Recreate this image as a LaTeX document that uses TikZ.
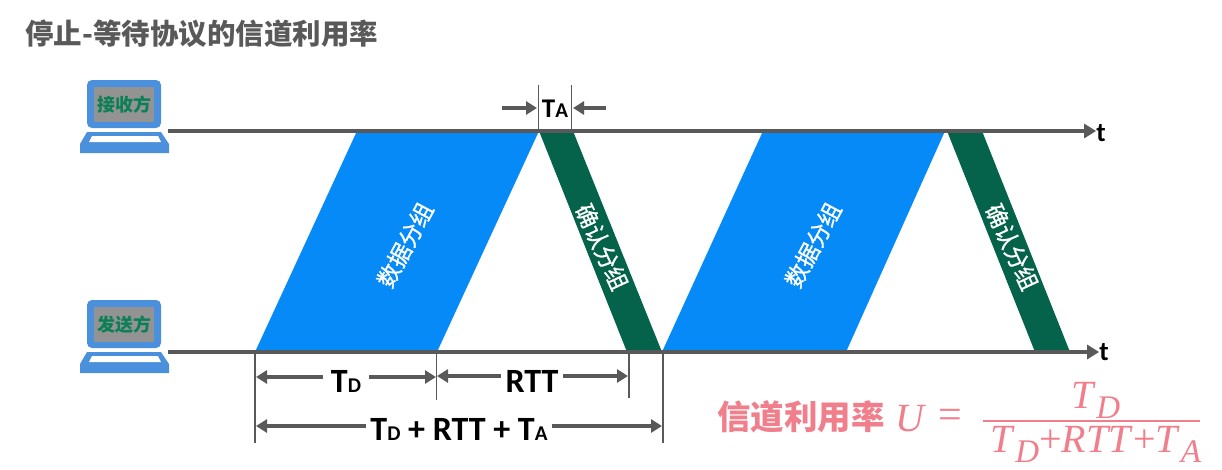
\documentclass[tikz,border=0pt]{standalone}
\usepackage{fontspec}
\setmainfont{Carlito}
\newfontfamily\cjkfont{Noto Sans CJK SC}
\newfontfamily\blockfont[FakeBold=0.7]{Noto Sans CJK SC}
\newfontfamily\formulafont{Liberation Serif}
\usetikzlibrary{arrows.meta,positioning,calc}
\definecolor{axisgray}{HTML}{595959}
\definecolor{blockblue}{HTML}{058AF7}
\definecolor{ackgreen}{HTML}{04634A}
\definecolor{laptopblue}{HTML}{4A90DC}
\definecolor{labelgreen}{HTML}{0B7F55}
\definecolor{ratepink}{HTML}{F07F8B}
\tikzset{
  axis/.style={draw=axisgray, line width=4pt, -{Triangle[length=12pt,width=14pt]}},
  tick/.style={draw=axisgray, line width=1.6pt},
  inarrow/.style={draw=axisgray, line width=3.4pt, -{Triangle[length=11pt,width=13pt]}},
  datablock/.style={fill=blockblue},
  ackblock/.style={fill=ackgreen},
  blocklabel/.style={text=white, font=\blockfont\fontsize{23}{23}\selectfont, inner sep=0pt},
  timelabel/.style={text=black, anchor=base, font=\bfseries\fontsize{34}{34}\selectfont, inner ysep=1pt},
  axislabel/.style={text=black, inner sep=0pt, font=\bfseries\fontsize{27}{27}\selectfont},
  screenlabel/.style={fill=gray!85, minimum width=60pt, minimum height=35pt, inner sep=0pt, text=labelgreen, font=\cjkfont\bfseries\fontsize{18}{18}\selectfont},
  formula/.style={text=ratepink, anchor=base west, inner sep=0pt, font=\formulafont\itshape\fontsize{40}{40}\selectfont}
}
\newcommand{\lowered}[1]{\kern3pt\raisebox{-10pt}{\fontsize{33}{33}\selectfont #1}}
\newcommand{\smallcap}[1]{{\fontsize{21}{21}\selectfont #1}}
% laptop icon: name, lower edge of the lid, label
\newcommand{\laptopicon}[3]{
  \fill[laptopblue, rounded corners=5pt] (87,#2) -- (87,#2-48) -- (161,#2-48) -- (161,#2) -- cycle;
  \fill[laptopblue] (87,#2+4) -- (161,#2+4) -- (169,#2+16) -- (169,#2+25) -- (80,#2+25) -- (80,#2+16) -- cycle;
  \fill[white] (92,#2+8) -- (158,#2+8) -- (161,#2+14) -- (89,#2+14) -- cycle;
  \node[screenlabel] (#1) at (124,#2-23.5) {#3};
}
\begin{document}
\begin{tikzpicture}[x=1pt,y=-1pt]
  \useasboundingbox (0,0) rectangle (1222,469);
  \node[anchor=west, inner sep=0pt, text=axisgray, font=\cjkfont\bfseries\fontsize{28.5}{28.5}\selectfont] (title) at (25,34) {停止-等待协议的信道利用率};

  \fill[datablock] (255,352) -- (357,131) -- (539,131) -- (437,352) -- cycle;
  \fill[ackblock] (539,131) -- (573,131) -- (662,352) -- (627,352) -- cycle;
  \fill[datablock] (662,352) -- (763,131) -- (945,131) -- (846,352) -- cycle;
  \fill[ackblock] (947,131) -- (982,131) -- (1070,352) -- (1035,352) -- cycle;
  \node[blocklabel, rotate=62] (data1) at (405,245) {数据分组};
  \node[blocklabel, rotate=-65] (ack1) at (602,247) {确认分组};
  \node[blocklabel, rotate=62] (data2) at (813,245) {数据分组};
  \node[blocklabel, rotate=-65] (ack2) at (1012,247) {确认分组};

  \laptopicon{recv}{128}{接收方}
  \laptopicon{send}{348}{发送方}

  \node[axislabel] (trecv) at (1101,133) {t};
  \node[axislabel] (tsend) at (1104,352) {t};
  \coordinate (recvstart) at (168,131);
  \coordinate (sendstart) at (168,352);
  \draw[axis] (recvstart) -- (recvstart -| trecv.west);
  \draw[axis] (sendstart) -- (sendstart -| tsend.west);

  % ticks
  \coordinate (a0) at (538.5,131);
  \coordinate (a1) at (538.5,85);
  \coordinate (b0) at (571.5,131);
  \coordinate (b1) at (571.5,85);
  \draw[tick] (a0) -- (a1);
  \draw[tick] (b0) -- (b1);
  \coordinate (p0) at (255,352);
  \coordinate (p1) at (255,443);
  \coordinate (q0) at (436.5,352);
  \coordinate (q1) at (436.5,400);
  \coordinate (r0) at (629,352);
  \coordinate (r1) at (629,398);
  \coordinate (s0) at (663,352);
  \coordinate (s1) at (663,443);
  \draw[tick] (p0) -- (p1);
  \draw[tick] (q0) -- (q1);
  \draw[tick] (r0) -- (r1);
  \draw[tick] (s0) -- (s1);

  % time spans
  \node[timelabel, font=\bfseries\fontsize{27}{27}\selectfont, inner xsep=0pt] (ta) at (555,117) {T\smallcap{A}};
  \coordinate (taleft) at (502,108);
  \coordinate (taright) at (606,108);
  \coordinate (taleftend) at (537,108);
  \coordinate (tarightend) at (573,108);
  \draw[inarrow] (taleft) -- (taleftend);
  \draw[inarrow] (taright) -- (tarightend);

  \node[timelabel, inner xsep=8pt] (td) at (346,392) {T\smallcap{D}};
  \coordinate (tdleft) at (256,377);
  \coordinate (tdright) at (436,377);
  \draw[inarrow] (td.west |- tdleft) -- (tdleft);
  \draw[inarrow] (td.east |- tdright) -- (tdright);

  \node[timelabel, inner xsep=4.5pt] (rtt) at (532,392) {RTT};
  \coordinate (rttleft) at (437,376);
  \coordinate (rttright) at (628,376);
  \draw[inarrow] (rtt.west |- rttleft) -- (rttleft);
  \draw[inarrow] (rtt.east |- rttright) -- (rttright);

  \node[timelabel, inner xsep=4pt] (total) at (459,440) {T\smallcap{D} + RTT + T\smallcap{A}};
  \coordinate (totalleft) at (256,426);
  \coordinate (totalright) at (662,426);
  \draw[inarrow] (total.west |- totalleft) -- (totalleft);
  \draw[inarrow] (total.east |- totalright) -- (totalright);

  % utilization
  \node[anchor=west, inner sep=0pt, text=ratepink, font=\cjkfont\bfseries\fontsize{33.5}{33.5}\selectfont] (rate) at (717,417) {信道利用率};
  \node[formula] (u) at (895,431) {U};
  \node[formula, font=\formulafont\fontsize{42}{42}\selectfont] (eq) at (938,428) {=};
  \node[formula] (num) at (1071,408) {T\lowered{D}};
  \node[formula] (den) at (990,452) {T\lowered{D}\textup{+}RTT\textup{+}T\lowered{A}};
  \coordinate (barleft) at (983,421);
  \coordinate (barright) at (1200,421);
  \draw[ratepink, line width=1.6pt] (barleft) -- (barright);
\end{tikzpicture}
\end{document}
